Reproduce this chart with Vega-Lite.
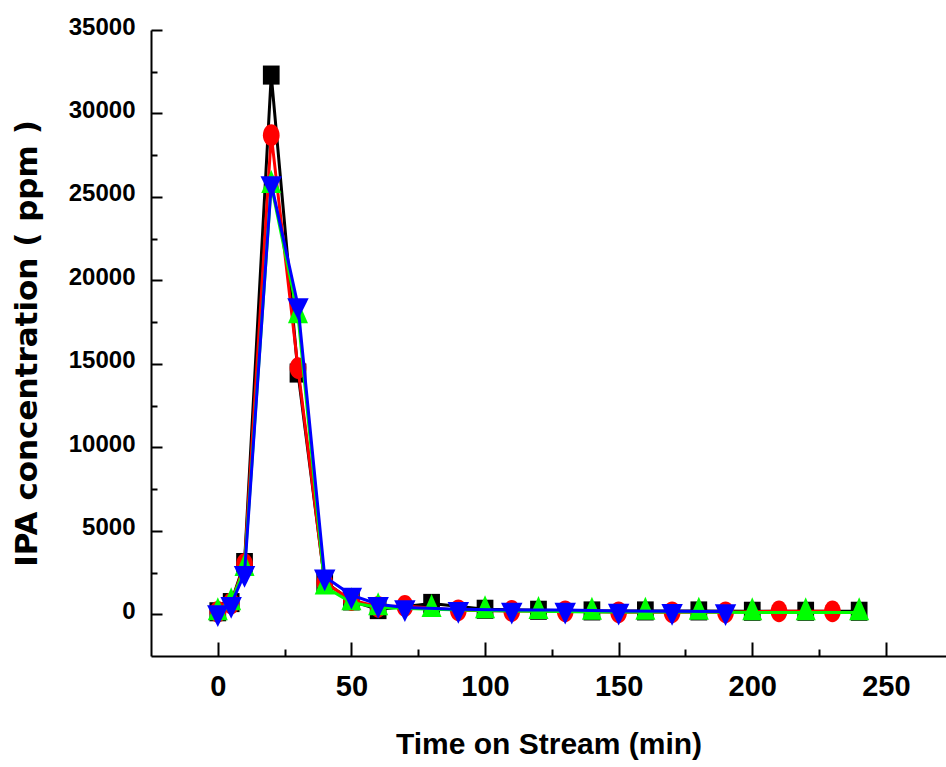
{
  "$schema": "https://vega.github.io/schema/vega-lite/v6.json",
  "autosize": "none",
  "padding": {"left": 151, "top": 30, "right": 0, "bottom": 111},
  "width": 795,
  "height": 626,
  "background": "white",
  "config": {
    "view": {"stroke": null},
    "axis": {"grid": false, "ticks": true, "domainColor": "black", "domainWidth": 2, "tickColor": "black", "tickWidth": 2, "labelColor": "black", "titleColor": "black"}
  },
  "resolve": {"axis": {"x": "independent", "y": "independent"}},
  "data": {
    "values": [
      {"s": "A", "t": 0, "v": 150}, {"s": "A", "t": 5, "v": 700}, {"s": "A", "t": 10, "v": 3100}, {"s": "A", "t": 20, "v": 32300}, {"s": "A", "t": 30, "v": 14450}, {"s": "A", "t": 40, "v": 1950}, {"s": "A", "t": 50, "v": 800}, {"s": "A", "t": 60, "v": 280}, {"s": "A", "t": 80, "v": 650}, {"s": "A", "t": 100, "v": 300}, {"s": "A", "t": 120, "v": 240}, {"s": "A", "t": 140, "v": 200}, {"s": "A", "t": 160, "v": 200}, {"s": "A", "t": 180, "v": 200}, {"s": "A", "t": 200, "v": 180}, {"s": "A", "t": 220, "v": 180}, {"s": "A", "t": 240, "v": 180},
      {"s": "B", "t": 0, "v": 150}, {"s": "B", "t": 5, "v": 650}, {"s": "B", "t": 10, "v": 3000}, {"s": "B", "t": 20, "v": 28700}, {"s": "B", "t": 30, "v": 14750}, {"s": "B", "t": 40, "v": 1900}, {"s": "B", "t": 50, "v": 850}, {"s": "B", "t": 60, "v": 450}, {"s": "B", "t": 70, "v": 500}, {"s": "B", "t": 90, "v": 240}, {"s": "B", "t": 110, "v": 200}, {"s": "B", "t": 130, "v": 180}, {"s": "B", "t": 150, "v": 120}, {"s": "B", "t": 170, "v": 120}, {"s": "B", "t": 190, "v": 120}, {"s": "B", "t": 210, "v": 180}, {"s": "B", "t": 230, "v": 180},
      {"s": "C", "t": 0, "v": 100}, {"s": "C", "t": 5, "v": 700}, {"s": "C", "t": 10, "v": 2750}, {"s": "C", "t": 20, "v": 25700}, {"s": "C", "t": 30, "v": 17900}, {"s": "C", "t": 40, "v": 1650}, {"s": "C", "t": 50, "v": 700}, {"s": "C", "t": 60, "v": 400}, {"s": "C", "t": 80, "v": 300}, {"s": "C", "t": 100, "v": 220}, {"s": "C", "t": 120, "v": 180}, {"s": "C", "t": 140, "v": 140}, {"s": "C", "t": 160, "v": 140}, {"s": "C", "t": 180, "v": 140}, {"s": "C", "t": 200, "v": 100}, {"s": "C", "t": 220, "v": 100}, {"s": "C", "t": 240, "v": 100},
      {"s": "D", "t": 0, "v": 100}, {"s": "D", "t": 5, "v": 600}, {"s": "D", "t": 10, "v": 2450}, {"s": "D", "t": 20, "v": 25800}, {"s": "D", "t": 30, "v": 18500}, {"s": "D", "t": 40, "v": 2250}, {"s": "D", "t": 50, "v": 1150}, {"s": "D", "t": 60, "v": 600}, {"s": "D", "t": 70, "v": 400}, {"s": "D", "t": 90, "v": 300}, {"s": "D", "t": 110, "v": 260}, {"s": "D", "t": 130, "v": 260}, {"s": "D", "t": 150, "v": 200}, {"s": "D", "t": 170, "v": 180}, {"s": "D", "t": 190, "v": 160}
    ]
  },
  "layer": [
    {
      "transform": [{"filter": "datum.s === 'A'"}],
      "mark": {"type": "line", "color": "black", "strokeWidth": 3,
        "point": {"shape": "M-1,-1.14L1,-1.14L1,1.14L-1,1.14Z", "size": 280, "filled": true, "color": "black", "opacity": 1}},
      "encoding": {
        "x": {
          "field": "t", "type": "quantitative",
          "scale": {"domain": [-25, 272.5], "nice": false, "zero": false},
          "axis": {
            "orient": "bottom",
            "title": "Time on Stream (min)",
            "values": [0, 50, 100, 150, 200, 250],
            "tickSize": -14,
            "labelPadding": 30,
            "labelFont": "Liberation Sans",
            "labelFontWeight": "bold",
            "labelFontSize": 29,
            "labelFlush": false,
            "titleFont": "Liberation Sans",
            "titleFontWeight": "bold",
            "titleFontSize": 30,
            "titleX": 397.5,
            "titleY": 97,
            "titleBaseline": "alphabetic"
          }
        },
        "y": {
          "field": "v", "type": "quantitative",
          "scale": {"domain": [-2500, 35000], "nice": false, "zero": false},
          "axis": {
            "orient": "left",
            "title": "IPA concentration ( ppm )",
            "values": [0, 5000, 10000, 15000, 20000, 25000, 30000, 35000],
            "format": "d",
            "tickSize": -11,
            "labelPadding": 27,
            "labelOffset": -3,
            "labelFont": "Liberation Sans",
            "labelFontWeight": "bold",
            "labelFontSize": 24,
            "labelFlush": false,
            "titleFont": "DejaVu Sans",
            "titleFontWeight": "bold",
            "titleFontSize": 31,
            "titleX": -124,
            "titleY": 313,
            "titleAngle": -90,
            "titleAlign": "center",
            "titleBaseline": "middle"
          }
        }
      }
    },
    {
      "transform": [{"filter": "datum.s === 'B'"}],
      "mark": {"type": "line", "color": "#ff0000", "strokeWidth": 3,
        "point": {"shape": "M-1,0A1,1.3,0,1,0,1,0A1,1.3,0,1,0,-1,0Z", "size": 280, "filled": true, "color": "#ff0000", "opacity": 1}},
      "encoding": {
        "x": {
          "field": "t", "type": "quantitative",
          "axis": {"orient": "bottom", "title": null, "values": [25, 75, 125, 175, 225], "tickSize": -7, "labels": false, "domain": false}
        },
        "y": {
          "field": "v", "type": "quantitative",
          "axis": {"orient": "left", "title": null, "values": [2500, 7500, 12500, 17500, 22500, 27500, 32500], "tickSize": -6, "labels": false, "domain": false}
        }
      }
    },
    {
      "transform": [{"filter": "datum.s === 'C'"}],
      "mark": {"type": "line", "color": "#00ff00", "strokeWidth": 3,
        "point": {"shape": "M0,-1.53L1,0.77L-1,0.77Z", "size": 400, "filled": true, "color": "#00ff00", "opacity": 1}},
      "encoding": {
        "x": {"field": "t", "type": "quantitative", "axis": null},
        "y": {"field": "v", "type": "quantitative", "axis": null}
      }
    },
    {
      "transform": [{"filter": "datum.s === 'D'"}],
      "mark": {"type": "line", "color": "#0000ff", "strokeWidth": 3,
        "point": {"shape": "M-1,-0.68L1,-0.68L0,1.35Z", "size": 460, "filled": true, "color": "#0000ff", "opacity": 1}},
      "encoding": {
        "x": {"field": "t", "type": "quantitative", "axis": null},
        "y": {"field": "v", "type": "quantitative", "axis": null}
      }
    }
  ]
}
